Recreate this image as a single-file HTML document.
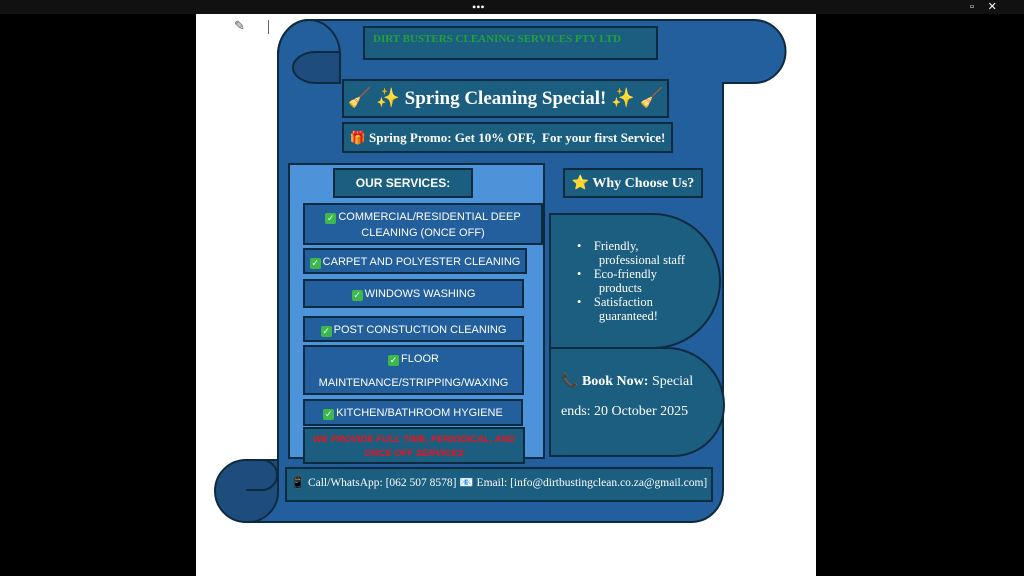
<!DOCTYPE html>
<html><head><meta charset="utf-8"><style>
body{margin:0;width:1024px;height:576px;background:#000;position:relative;overflow:hidden;font-family:"Liberation Serif",serif}
.a{position:absolute}
.b{position:absolute;background:#1b5e80;border:2px solid #0d2b40;box-sizing:border-box;color:#fff}
.s{position:absolute;background:#235f9c;border:2px solid #0d2b40;box-sizing:border-box;color:#fff;font-family:"Liberation Sans",sans-serif;font-size:11px;text-align:center}
.ck{display:inline-block;width:11px;height:11px;background:#3cb94a;border-radius:2px;color:#fff;font-size:9px;line-height:11px;vertical-align:-1px;margin-right:2px}
</style></head><body>
<div class="a" style="left:0;top:0;width:1024px;height:14px;background:#111"></div>
<div class="a" style="left:472px;top:0;color:#fff;font-size:12px">•••</div>
<div class="a" style="left:970px;top:0;color:#fff;font-size:11px">▫&nbsp;&nbsp;&nbsp;&nbsp;&nbsp;✕</div>
<div class="a" style="left:196px;top:14px;width:620px;height:562px;background:#fff"></div>
<div class="a" style="left:234px;top:18px;color:#555;font-size:13px">✎</div>
<div class="a" style="left:268px;top:20px;width:1px;height:14px;background:#666"></div>
<svg class="a" style="left:0;top:0" width="1024" height="576">
<g stroke="#0d2b40" stroke-width="2">
<path d="M309,20 H754 A31.5,31.5 0 0 1 754,83 H723 V490 A32,32 0 0 1 691,522 H246 A32,32 0 0 1 246,460 H278 V55 A31,35 0 0 1 309,20 Z" fill="#235f9c"/>
<path d="M278,83 V55 A31,35 0 0 1 340,55 V83" fill="none"/>
<path d="M316,52 H340 V83 H316 A23,15.5 0 0 1 316,52 Z" fill="#1d4c7d"/>
<path d="M278,460 H246 A31,31 0 0 0 246,522 A30,30 0 0 0 278,492 V460" fill="#1d4c7d"/>
<path d="M262,460 A15,15 0 0 1 262,490 H246" fill="none"/>
</g></svg>
<div class="b" style="left:363px;top:26px;width:295px;height:34px;color:#22a03c;font-weight:bold;font-size:11px;padding:5px 0 0 8px">DIRT BUSTERS CLEANING SERVICES PTY LTD</div>
<div class="b" style="left:342px;top:79px;width:327px;height:39px;font-weight:bold;font-size:19px;text-align:center;line-height:35px">🧹 ✨ Spring Cleaning Special! ✨ 🧹</div>
<div class="b" style="left:342px;top:122px;width:331px;height:31px;font-weight:bold;font-size:13px;text-align:center;line-height:28px">🎁 Spring Promo: Get 10% OFF,&nbsp; For your first Service!</div>
<div class="a" style="left:288px;top:163px;width:257px;height:296px;background:#4d93d9;border:2px solid #0d2b40;box-sizing:border-box"></div>
<div class="b" style="left:333px;top:168px;width:140px;height:30px;font-family:'Liberation Sans',sans-serif;font-weight:bold;font-size:12px;text-align:center;line-height:26px">OUR SERVICES:</div>
<div class="s" style="left:303px;top:203px;width:240px;height:42px;line-height:16px;padding-top:4px"><span class="ck">✓</span>COMMERCIAL/RESIDENTIAL DEEP<br>CLEANING (ONCE OFF)</div>
<div class="s" style="left:303px;top:248px;width:224px;height:26px;line-height:24px"><span class="ck">✓</span>CARPET AND POLYESTER CLEANING</div>
<div class="s" style="left:303px;top:279px;width:221px;height:29px;line-height:26px"><span class="ck">✓</span>WINDOWS WASHING</div>
<div class="s" style="left:303px;top:316px;width:221px;height:26px;line-height:24px"><span class="ck">✓</span>POST CONSTUCTION CLEANING</div>
<div class="s" style="left:303px;top:345px;width:221px;height:50px;line-height:24px"><span class="ck">✓</span>FLOOR<br>MAINTENANCE/STRIPPING/WAXING</div>
<div class="s" style="left:303px;top:399px;width:220px;height:27px;line-height:25px"><span class="ck">✓</span>KITCHEN/BATHROOM HYGIENE</div>
<div class="b" style="left:303px;top:427px;width:222px;height:37px;color:#e8141e;font-family:'Liberation Sans',sans-serif;font-weight:bold;font-style:italic;font-size:9.5px;text-align:center;line-height:14px;padding-top:4px">WE PROVIDE FULL TIME, PERIODICAL, AND<br>ONCE OFF SERVICES</div>
<div class="b" style="left:563px;top:168px;width:140px;height:30px;font-weight:bold;font-size:14px;text-align:center;line-height:27px">⭐ Why Choose Us?</div>
<div class="b" style="left:549px;top:213px;width:172px;height:136px;border-radius:0 90px 90px 0;font-size:12.5px;line-height:14px;padding:24px 0 0 26px">
<div>•&nbsp;&nbsp;&nbsp; Friendly,<br>&nbsp;&nbsp;&nbsp;&nbsp;&nbsp;&nbsp; professional staff</div><div>•&nbsp;&nbsp;&nbsp; Eco-friendly<br>&nbsp;&nbsp;&nbsp;&nbsp;&nbsp;&nbsp; products</div><div>•&nbsp;&nbsp;&nbsp; Satisfaction<br>&nbsp;&nbsp;&nbsp;&nbsp;&nbsp;&nbsp; guaranteed!</div></div>
<div class="b" style="left:549px;top:347px;width:176px;height:110px;border-radius:0 90px 80px 0;font-size:14px;line-height:30px;padding:18px 0 0 10px">📞 <b>Book Now:</b> Special<br>ends: 20 October 2025</div>
<div class="b" style="left:285px;top:467px;width:428px;height:35px;font-size:11.5px;line-height:28px;text-align:center;white-space:nowrap">📱 Call/WhatsApp: [062 507 8578] 📧 Email: [info@dirtbustingclean.co.za@gmail.com]</div>
</body></html>
